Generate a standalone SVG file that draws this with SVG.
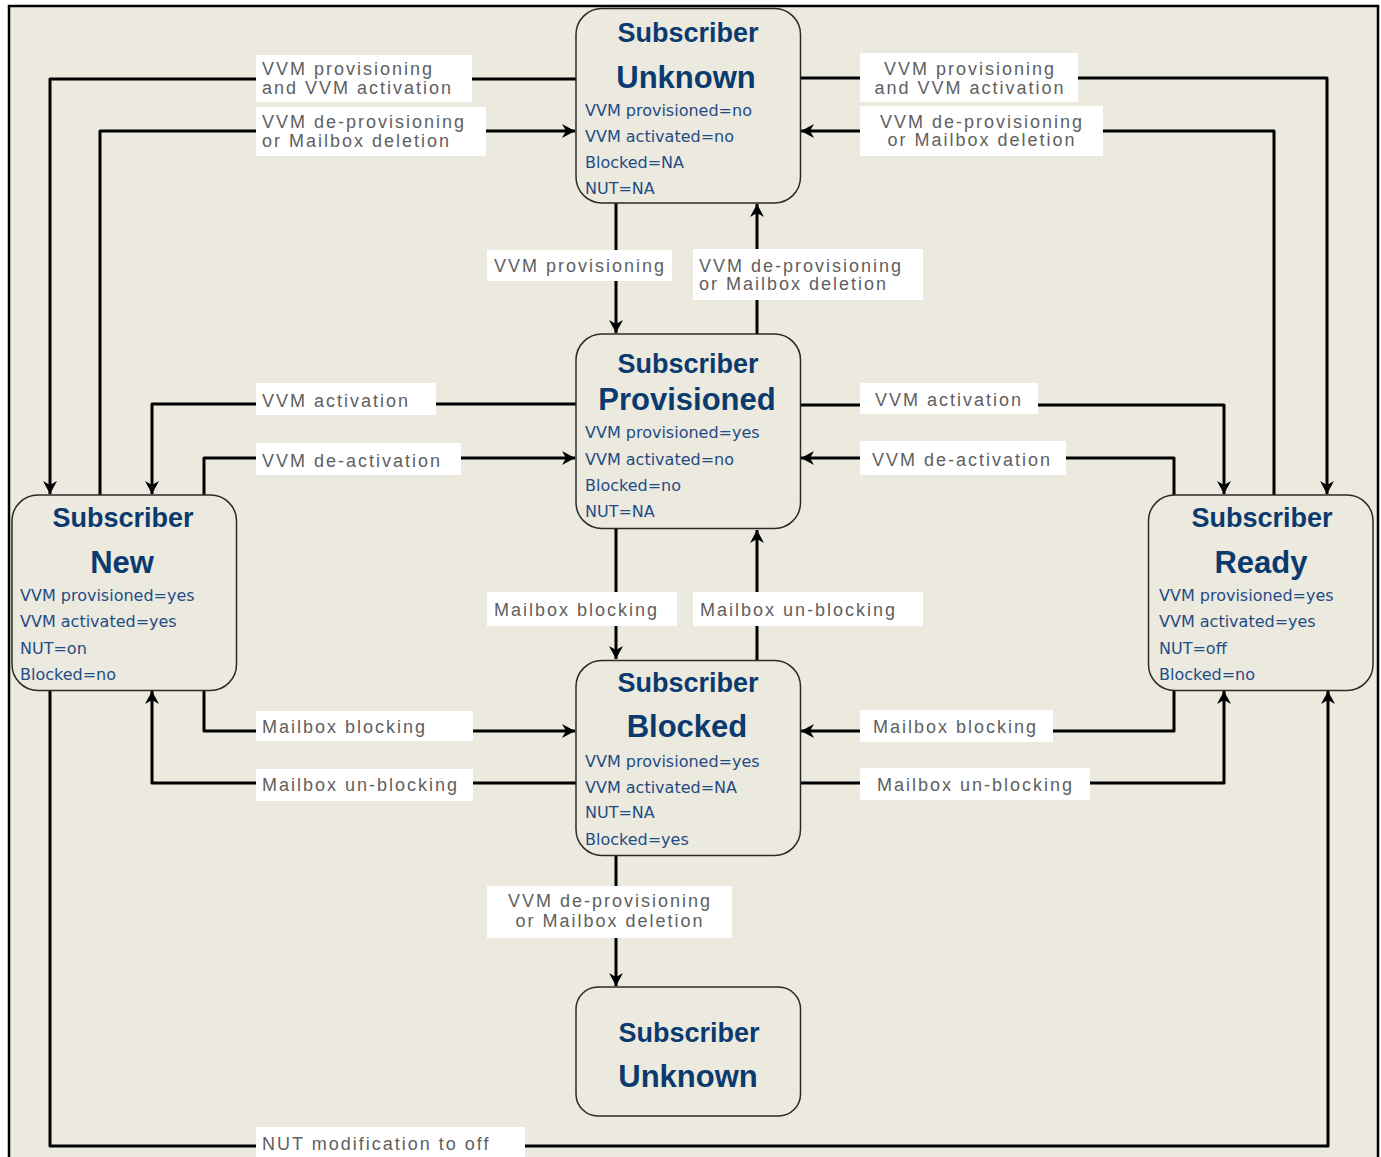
<svg xmlns="http://www.w3.org/2000/svg" width="1381" height="1157" viewBox="0 0 1381 1157">
<defs>
<style>
.bg{fill:#ECE9DF}
.node{fill:#ECE9DF;stroke:#2a2a2a;stroke-width:1.5}
.t1{font-family:"Liberation Sans",Arial,sans-serif;font-weight:bold;font-size:27px;fill:#0B3A6E;text-anchor:middle}
.t2{font-family:"Liberation Sans",Arial,sans-serif;font-weight:bold;font-size:31px;fill:#0B3A6E;text-anchor:middle}
.at{font-family:"DejaVu Sans",Verdana,sans-serif;font-size:16px;fill:#1F4C85}
.lb{fill:#FFFFFF}
.lt{font-family:"Liberation Sans",Arial,sans-serif;font-size:18px;letter-spacing:2px;fill:#606060}
.c{text-anchor:middle}
.ln{fill:none;stroke:#000;stroke-width:3;stroke-linejoin:round;marker-end:url(#ah)}
</style>
<marker id="ah" markerUnits="userSpaceOnUse" viewBox="-14 -8 15 16" refX="0" refY="0" markerWidth="15" markerHeight="16" orient="auto">
<path d="M0,0 L-13,-7 L-9,0 L-13,7 Z" fill="#000"/>
</marker>
</defs>
<rect x="0" y="0" width="1381" height="1157" fill="#FFFFFF"/>
<rect x="9" y="6" width="1369" height="1151" class="bg"/>
<path d="M9,1157 V6 H1378 V1157" fill="none" stroke="#000" stroke-width="2.5"/>

<g id="connectors">
<path class="ln" d="M576,79 H50 V494"/>
<path class="ln" d="M100,495 V131 H575"/>
<path class="ln" d="M800,78 H1327 V494"/>
<path class="ln" d="M1274,495 V131 H801"/>
<path class="ln" d="M616,203 V333"/>
<path class="ln" d="M757,334 V204"/>
<path class="ln" d="M576,404 H152 V494"/>
<path class="ln" d="M204,495 V458 H575"/>
<path class="ln" d="M800,405 H1224 V494"/>
<path class="ln" d="M1174,495 V458 H801"/>
<path class="ln" d="M616,529 V659"/>
<path class="ln" d="M757,660 V530"/>
<path class="ln" d="M204,690 V731 H575"/>
<path class="ln" d="M576,783 H152 V691"/>
<path class="ln" d="M1174,690 V731 H801"/>
<path class="ln" d="M800,783 H1224 V691"/>
<path class="ln" d="M616,856 V986"/>
<path class="ln" d="M50,690 V1146 H1328 V691"/>

<rect class="lb" x="256" y="55" width="216" height="47"/>
<text class="lt" x="262" y="75">VVM provisioning</text>
<text class="lt" x="262" y="94">and VVM activation</text>
<rect class="lb" x="256" y="107" width="230" height="49"/>
<text class="lt" x="262" y="128">VVM de-provisioning</text>
<text class="lt" x="262" y="147">or Mailbox deletion</text>
<rect class="lb" x="860" y="53" width="218" height="49"/>
<text class="lt c" x="970" y="75">VVM provisioning</text>
<text class="lt c" x="970" y="94">and VVM activation</text>
<rect class="lb" x="860" y="106" width="243" height="50"/>
<text class="lt c" x="982" y="128">VVM de-provisioning</text>
<text class="lt c" x="982" y="146">or Mailbox deletion</text>

<rect class="lb" x="487" y="250" width="185" height="31"/>
<text class="lt" x="494" y="272">VVM provisioning</text>
<rect class="lb" x="693" y="249" width="230" height="51"/>
<text class="lt" x="699" y="272">VVM de-provisioning</text>
<text class="lt" x="699" y="290">or Mailbox deletion</text>

<rect class="lb" x="256" y="383" width="180" height="32"/>
<text class="lt" x="262" y="407">VVM activation</text>
<rect class="lb" x="256" y="443" width="205" height="32"/>
<text class="lt" x="262" y="467">VVM de-activation</text>
<rect class="lb" x="860" y="383" width="178" height="31"/>
<text class="lt" x="875" y="406">VVM activation</text>
<rect class="lb" x="860" y="441" width="206" height="34"/>
<text class="lt" x="872" y="466">VVM de-activation</text>

<rect class="lb" x="487" y="592" width="190" height="34"/>
<text class="lt" x="494" y="616">Mailbox blocking</text>
<rect class="lb" x="693" y="592" width="230" height="34"/>
<text class="lt" x="700" y="616">Mailbox un-blocking</text>

<rect class="lb" x="256" y="711" width="217" height="30"/>
<text class="lt" x="262" y="733">Mailbox blocking</text>
<rect class="lb" x="256" y="769" width="217" height="32"/>
<text class="lt" x="262" y="791">Mailbox un-blocking</text>
<rect class="lb" x="860" y="710" width="193" height="32"/>
<text class="lt" x="873" y="733">Mailbox blocking</text>
<rect class="lb" x="860" y="768" width="230" height="32"/>
<text class="lt" x="877" y="791">Mailbox un-blocking</text>

<rect class="lb" x="487" y="886" width="245" height="52"/>
<text class="lt c" x="610" y="907">VVM de-provisioning</text>
<text class="lt c" x="610" y="927">or Mailbox deletion</text>

<rect class="lb" x="256" y="1127" width="269" height="30"/>
<text class="lt" x="262" y="1150">NUT modification to off</text>
</g>

<g id="unknown-top">
<rect class="node" x="576" y="8.5" width="224.5" height="194.5" rx="26"/>
<text class="t1" x="688" y="42">Subscriber</text>
<text class="t2" x="686" y="88">Unknown</text>
<text class="at" x="585" y="116">VVM provisioned=no</text>
<text class="at" x="585" y="142">VVM activated=no</text>
<text class="at" x="585" y="168">Blocked=NA</text>
<text class="at" x="585" y="194">NUT=NA</text>
</g>

<g id="provisioned">
<rect class="node" x="576" y="334" width="224.5" height="194.5" rx="26"/>
<text class="t1" x="688" y="373">Subscriber</text>
<text class="t2" x="687" y="410">Provisioned</text>
<text class="at" x="585" y="438">VVM provisioned=yes</text>
<text class="at" x="585" y="465">VVM activated=no</text>
<text class="at" x="585" y="491">Blocked=no</text>
<text class="at" x="585" y="517">NUT=NA</text>
</g>

<g id="blocked">
<rect class="node" x="576" y="660.5" width="224.5" height="195" rx="26"/>
<text class="t1" x="688" y="692">Subscriber</text>
<text class="t2" x="687" y="737">Blocked</text>
<text class="at" x="585" y="767">VVM provisioned=yes</text>
<text class="at" x="585" y="793">VVM activated=NA</text>
<text class="at" x="585" y="818">NUT=NA</text>
<text class="at" x="585" y="845">Blocked=yes</text>
</g>

<g id="unknown-bottom">
<rect class="node" x="576" y="987" width="224.5" height="129" rx="22"/>
<text class="t1" x="689" y="1042">Subscriber</text>
<text class="t2" x="688" y="1087">Unknown</text>
</g>

<g id="new">
<rect class="node" x="12" y="495" width="224.5" height="195.5" rx="26"/>
<text class="t1" x="123" y="527">Subscriber</text>
<text class="t2" x="122" y="573">New</text>
<text class="at" x="20" y="601">VVM provisioned=yes</text>
<text class="at" x="20" y="627">VVM activated=yes</text>
<text class="at" x="20" y="654">NUT=on</text>
<text class="at" x="20" y="680">Blocked=no</text>
</g>

<g id="ready">
<rect class="node" x="1148.5" y="495" width="224.5" height="195.5" rx="26"/>
<text class="t1" x="1262" y="527">Subscriber</text>
<text class="t2" x="1261" y="573">Ready</text>
<text class="at" x="1159" y="601">VVM provisioned=yes</text>
<text class="at" x="1159" y="627">VVM activated=yes</text>
<text class="at" x="1159" y="654">NUT=off</text>
<text class="at" x="1159" y="680">Blocked=no</text>
</g>
</svg>
